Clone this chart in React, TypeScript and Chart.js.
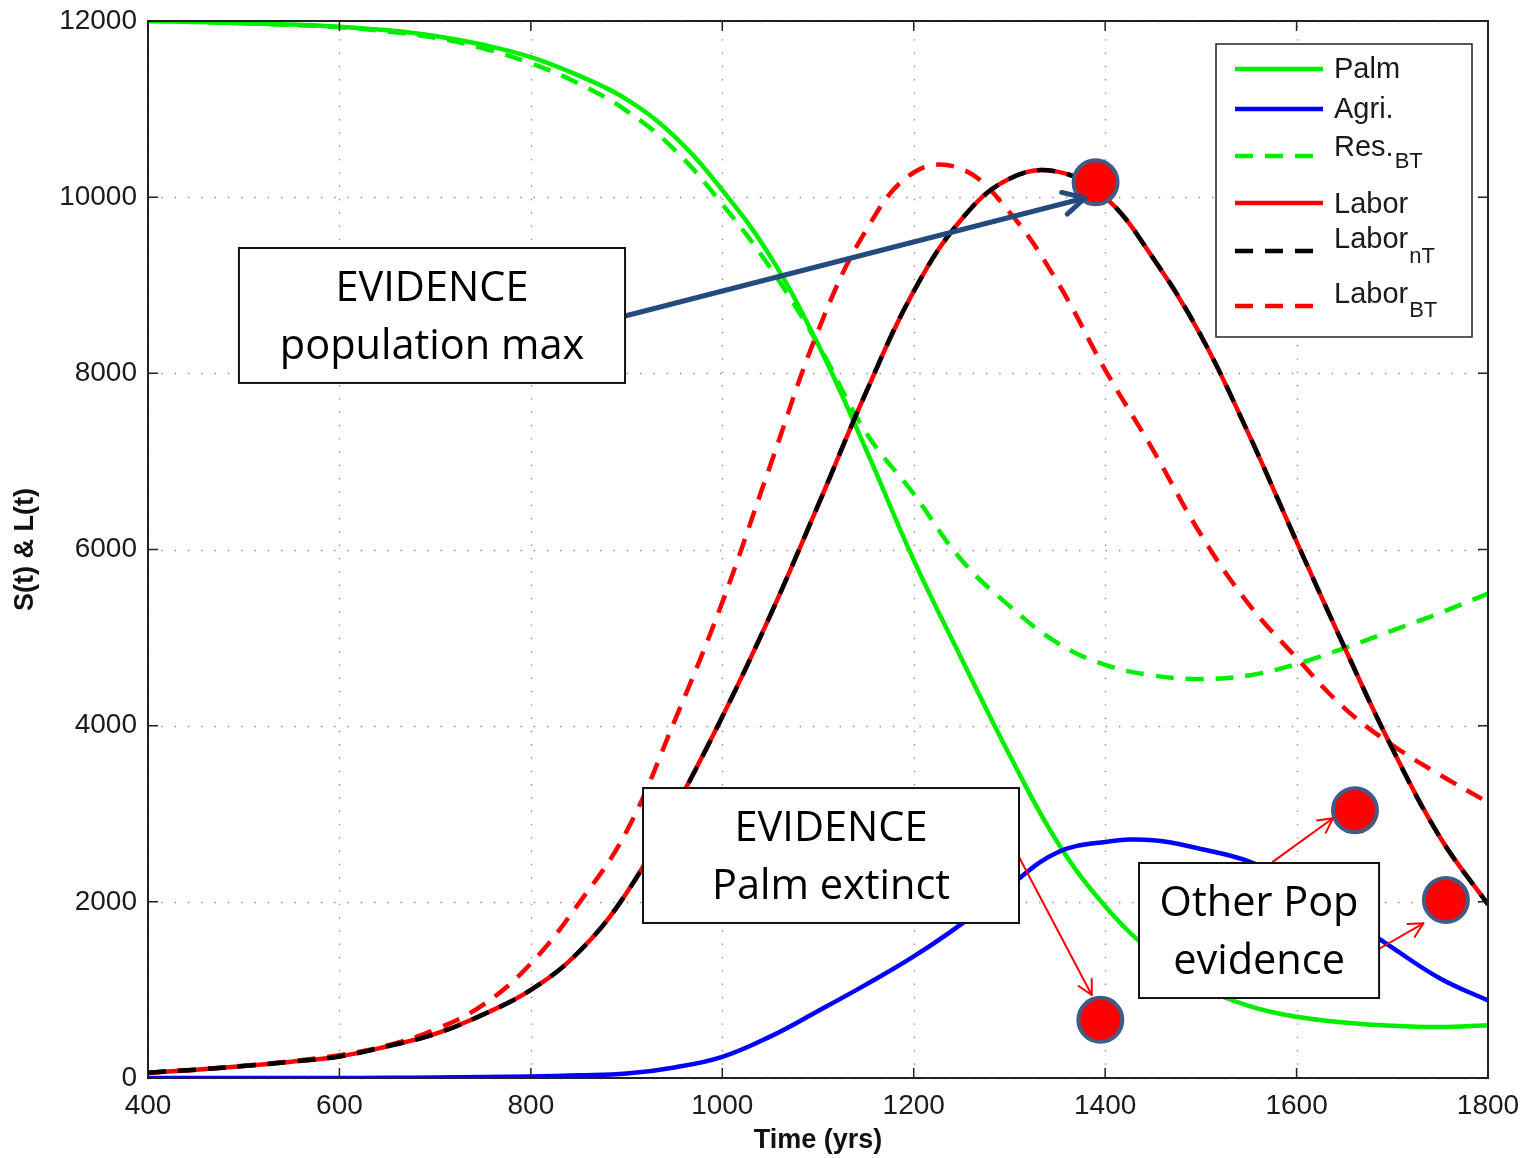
import React, { useEffect, useRef } from "react";
import { Chart, registerables } from "chart.js";

Chart.register(...registerables);

// ---------------- data ----------------
const YEARS = [400, 450, 500, 550, 600, 650, 700, 750, 800, 850, 900, 950, 1000, 1050, 1100, 1150, 1200, 1250, 1300, 1350, 1400, 1450, 1500, 1550, 1600, 1650, 1700, 1750, 1800];
const PALM = [12000, 11990, 11975, 11960, 11935, 11895, 11830, 11730, 11590, 11380, 11110, 10690, 10080, 9330, 8330, 7140, 5880, 4760, 3670, 2680, 1950, 1420, 1045, 820, 695, 630, 592, 578, 600];
const AGRI = [0, 0, 0, 0, 0, 2, 5, 10, 18, 30, 50, 120, 240, 470, 760, 1060, 1380, 1750, 2180, 2560, 2680, 2700, 2600, 2460, 2200, 1850, 1480, 1130, 880];
const RES_BT = [12000, 11990, 11975, 11955, 11930, 11880, 11810, 11690, 11520, 11290, 10980, 10540, 9920, 9200, 8330, 7330, 6630, 5880, 5360, 4940, 4690, 4570, 4530, 4570, 4700, 4880, 5080, 5280, 5500];
const LABOR = [60, 95, 135, 185, 245, 360, 500, 720, 1000, 1430, 2100, 3050, 4100, 5250, 6500, 7780, 8930, 9750, 10210, 10290, 10000, 9310, 8430, 7310, 6090, 4890, 3740, 2730, 1970];
const LABOR_NT = [60, 95, 135, 185, 245, 360, 500, 720, 1000, 1430, 2100, 3050, 4100, 5250, 6500, 7780, 8930, 9750, 10210, 10290, 10000, 9310, 8430, 7310, 6090, 4890, 3740, 2730, 1970];
const LABOR_BT = [60, 95, 140, 190, 260, 370, 550, 830, 1300, 1980, 2800, 4050, 5400, 6950, 8480, 9620, 10280, 10320, 9830, 9040, 8040, 7130, 6170, 5380, 4770, 4200, 3780, 3440, 3130];

const EVIDENCE_YEARS = [1390, 1395, 1661, 1756];
const EVIDENCE_VALUES = [10170, 660, 3040, 2020];

const X_TICKS = [400, 600, 800, 1000, 1200, 1400, 1600, 1800];
const Y_TICKS = [0, 2000, 4000, 6000, 8000, 10000, 12000];

const X_TITLE = "Time (yrs)";
const Y_TITLE = "S(t) & L(t)";

const SERIES_NAMES = ["Palm", "Agri.", "Res.", "Labor", "Labor", "Labor"];
const SERIES_SUBS = ["", "", "BT", "", "nT", "BT"];

const NOTE_TEXTS = [
  ["EVIDENCE", "population max"],
  ["EVIDENCE", "Palm extinct"],
  ["Other Pop", "evidence"],
];

// annotation geometry (in data units)
const NOTE_BOXES = [
  { x0: 495, x1: 898.4, y0: 7891, y1: 9423 },
  { x0: 917.2, x1: 1310, y0: 1760, y1: 3292 },
  { x0: 1435.4, x1: 1686.2, y0: 908, y1: 2441 },
];
const ARROWS = [
  { from: [898.4, 8651], to: [1379, 9991], color: "#254a7d", width: 5, head: 24 },
  { from: [1310, 2510], to: [1386, 942], color: "#ff0000", width: 2, head: 16 },
  { from: [1575.4, 2456], to: [1638, 2949], color: "#ff0000", width: 2, head: 16 },
  { from: [1687.2, 1473], to: [1732.5, 1756], color: "#ff0000", width: 2, head: 16 },
];

const TICK_FONT = '"Liberation Sans", Arial, Helvetica, sans-serif';
const NOTE_FONT = '"Open Sans", Lato, sans-serif';
const DASH = [18, 12];

const STYLES = [
  { color: "#00ee00", dash: [] as number[] },
  { color: "#0000ff", dash: [] as number[] },
  { color: "#00ee00", dash: DASH },
  { color: "#ff0000", dash: [] as number[] },
  { color: "#000000", dash: DASH },
  { color: "#ff0000", dash: DASH },
];

function drawArrow(ctx: CanvasRenderingContext2D, x1: number, y1: number, x2: number, y2: number, color: string, width: number, head: number) {
  ctx.save();
  ctx.strokeStyle = color;
  ctx.lineWidth = width;
  ctx.lineCap = "round";
  ctx.lineJoin = "round";
  ctx.setLineDash([]);
  ctx.beginPath();
  ctx.moveTo(x1, y1);
  ctx.lineTo(x2, y2);
  ctx.stroke();
  const a = Math.atan2(y2 - y1, x2 - x1);
  const s = Math.PI / 6.5;
  ctx.beginPath();
  ctx.moveTo(x2 - head * Math.cos(a - s), y2 - head * Math.sin(a - s));
  ctx.lineTo(x2, y2);
  ctx.lineTo(x2 - head * Math.cos(a + s), y2 - head * Math.sin(a + s));
  ctx.stroke();
  ctx.restore();
}

const overlayPlugin = {
  id: "overlay",
  beforeDatasetsDraw(chart: any) {
    const { ctx, chartArea: a, scales } = chart;
    const x = scales.x;
    const y = scales.y;
    ctx.save();
    ctx.strokeStyle = "#8a8a8a";
    ctx.lineWidth = 1.3;
    ctx.setLineDash([1.4, 11.9]);
    X_TICKS.forEach((v) => {
      const px = Math.round(x.getPixelForValue(v)) + 0.5;
      ctx.beginPath();
      ctx.moveTo(px, a.bottom);
      ctx.lineTo(px, a.top);
      ctx.stroke();
    });
    Y_TICKS.forEach((v) => {
      const py = Math.round(y.getPixelForValue(v)) + 0.5;
      ctx.beginPath();
      ctx.moveTo(a.left, py);
      ctx.lineTo(a.right, py);
      ctx.stroke();
    });
    ctx.restore();
  },
  afterDatasetsDraw(chart: any) {
    const { ctx, chartArea: a, scales } = chart;
    const x = scales.x;
    const y = scales.y;
    ctx.save();
    // frame
    ctx.strokeStyle = "#222";
    ctx.lineWidth = 2;
    ctx.setLineDash([]);
    ctx.strokeRect(a.left, a.top, a.right - a.left, a.bottom - a.top);
    const tl = 10;
    ctx.lineWidth = 1.5;
    X_TICKS.forEach((v) => {
      const px = x.getPixelForValue(v);
      ctx.beginPath();
      ctx.moveTo(px, a.bottom);
      ctx.lineTo(px, a.bottom - tl);
      ctx.moveTo(px, a.top);
      ctx.lineTo(px, a.top + tl);
      ctx.stroke();
    });
    Y_TICKS.forEach((v) => {
      const py = y.getPixelForValue(v);
      ctx.beginPath();
      ctx.moveTo(a.left, py);
      ctx.lineTo(a.left + tl, py);
      ctx.moveTo(a.right, py);
      ctx.lineTo(a.right - tl, py);
      ctx.stroke();
    });

    // arrows
    ARROWS.forEach((ar) => {
      drawArrow(
        ctx,
        x.getPixelForValue(ar.from[0]),
        y.getPixelForValue(ar.from[1]),
        x.getPixelForValue(ar.to[0]),
        y.getPixelForValue(ar.to[1]),
        ar.color,
        ar.width,
        ar.head
      );
    });

    // note boxes
    NOTE_BOXES.forEach((b, i) => {
      const l = x.getPixelForValue(b.x0);
      const r = x.getPixelForValue(b.x1);
      const t = y.getPixelForValue(b.y1);
      const btm = y.getPixelForValue(b.y0);
      ctx.fillStyle = "#ffffff";
      ctx.fillRect(l, t, r - l, btm - t);
      ctx.strokeStyle = "#111";
      ctx.lineWidth = 2;
      ctx.strokeRect(l, t, r - l, btm - t);
      ctx.fillStyle = "#000";
      ctx.font = `41.5px ${NOTE_FONT}`;
      ctx.textAlign = "center";
      ctx.textBaseline = "middle";
      const cx = (l + r) / 2;
      const cy = (t + btm) / 2;
      ctx.fillText(NOTE_TEXTS[i][0], cx, cy - 26);
      ctx.fillText(NOTE_TEXTS[i][1], cx, cy + 32);
    });

    // legend
    const lx = a.right - 272;
    const ly = a.top + 23;
    const lw = 256;
    const lh = 293;
    ctx.fillStyle = "#fff";
    ctx.fillRect(lx, ly, lw, lh);
    ctx.strokeStyle = "#222";
    ctx.lineWidth = 1.5;
    ctx.strokeRect(lx, ly, lw, lh);
    const lineY = [25, 65, 112, 159, 207, 262];
    const textY = [26, 66, 104, 161, 196, 251];
    const subY = [0, 0, 118, 0, 213, 267];
    SERIES_NAMES.forEach((name, i) => {
      const st = STYLES[i];
      ctx.strokeStyle = st.color;
      ctx.lineWidth = 4.5;
      ctx.setLineDash(st.dash);
      ctx.lineCap = "butt";
      ctx.beginPath();
      ctx.moveTo(lx + 19, ly + lineY[i]);
      ctx.lineTo(lx + 107, ly + lineY[i]);
      ctx.stroke();
      ctx.setLineDash([]);
      ctx.fillStyle = "#1a1a1a";
      ctx.textAlign = "left";
      ctx.textBaseline = "middle";
      ctx.font = `29px ${TICK_FONT}`;
      ctx.fillText(name, lx + 118, ly + textY[i]);
      if (SERIES_SUBS[i]) {
        const w = ctx.measureText(name).width;
        ctx.font = `22px ${TICK_FONT}`;
        ctx.fillText(SERIES_SUBS[i], lx + 118 + w + 1, ly + subY[i]);
      }
    });
    ctx.restore();
  },
};

function series(values: number[]) {
  return YEARS.map((yr, i) => ({ x: yr, y: values[i] }));
}

function zeroPad(s: any) {
  s.paddingTop = 0;
  s.paddingBottom = 0;
  s.paddingLeft = 0;
  s.paddingRight = 0;
}

export default function App() {
  const ref = useRef<HTMLCanvasElement | null>(null);
  useEffect(() => {
    if (!ref.current) return;
    const all = [PALM, AGRI, RES_BT, LABOR, LABOR_NT, LABOR_BT];
    const orders = [6, 5, 7, 3, 2, 4];
    const lineSets = all.map((vals, i) => ({
      type: "line" as const,
      label: SERIES_NAMES[i] + SERIES_SUBS[i],
      data: series(vals),
      borderColor: STYLES[i].color,
      borderDash: STYLES[i].dash,
      borderWidth: 4.5,
      pointRadius: 0,
      tension: 0.4,
      fill: false,
      order: orders[i],
    }));
    const evidence = {
      type: "scatter" as const,
      label: "evidence",
      data: EVIDENCE_YEARS.map((yr, i) => ({ x: yr, y: EVIDENCE_VALUES[i] })),
      backgroundColor: "#ff0000",
      borderColor: "#3e5c87",
      borderWidth: 4,
      pointRadius: 22,
      order: 1,
    };
    const chart = new Chart(ref.current, {
      type: "line",
      data: { datasets: [...lineSets, evidence] as any },
      plugins: [overlayPlugin],
      options: {
        animation: false,
        responsive: false,
        maintainAspectRatio: false,
        devicePixelRatio: 1,
        layout: { autoPadding: false, padding: { left: 0, right: 37, top: 21, bottom: 0 } },
        plugins: { legend: { display: false }, tooltip: { enabled: false } },
        scales: {
          x: {
            type: "linear",
            min: 400,
            max: 1800,
            afterBuildTicks: (s: any) => {
              s.ticks = X_TICKS.map((v) => ({ value: v }));
            },
            afterFit: (s: any) => {
              s.height = 80;
              zeroPad(s);
            },
            grid: { display: false, drawTicks: false },
            border: { display: false },
            ticks: {
              autoSkip: false,
              maxRotation: 0,
              padding: 11,
              color: "#1a1a1a",
              font: { family: TICK_FONT, size: 28 },
              callback: (v: any) => String(v),
            },
            title: {
              display: true,
              text: X_TITLE,
              color: "#111",
              font: { family: TICK_FONT, size: 27, weight: "bold" },
              padding: { top: 0, bottom: 1 },
            },
          },
          y: {
            type: "linear",
            min: 0,
            max: 12000,
            afterBuildTicks: (s: any) => {
              s.ticks = Y_TICKS.map((v) => ({ value: v }));
            },
            afterFit: (s: any) => {
              s.width = 148;
              zeroPad(s);
            },
            grid: { display: false, drawTicks: false },
            border: { display: false },
            ticks: {
              autoSkip: false,
              padding: 11,
              color: "#1a1a1a",
              font: { family: TICK_FONT, size: 28 },
              callback: (v: any) => String(v),
            },
            title: {
              display: true,
              text: Y_TITLE,
              color: "#111",
              font: { family: TICK_FONT, size: 27, weight: "bold" },
              padding: { top: 9, bottom: 0 },
            },
          },
        },
      } as any,
    });
    return () => chart.destroy();
  }, []);
  return (
    <div style={{ position: "fixed", left: 0, top: 0, width: 1525, height: 1158, background: "#fff" }}>
      <canvas ref={ref} width={1525} height={1158} style={{ display: "block", width: 1525, height: 1158 }} />
    </div>
  );
}
